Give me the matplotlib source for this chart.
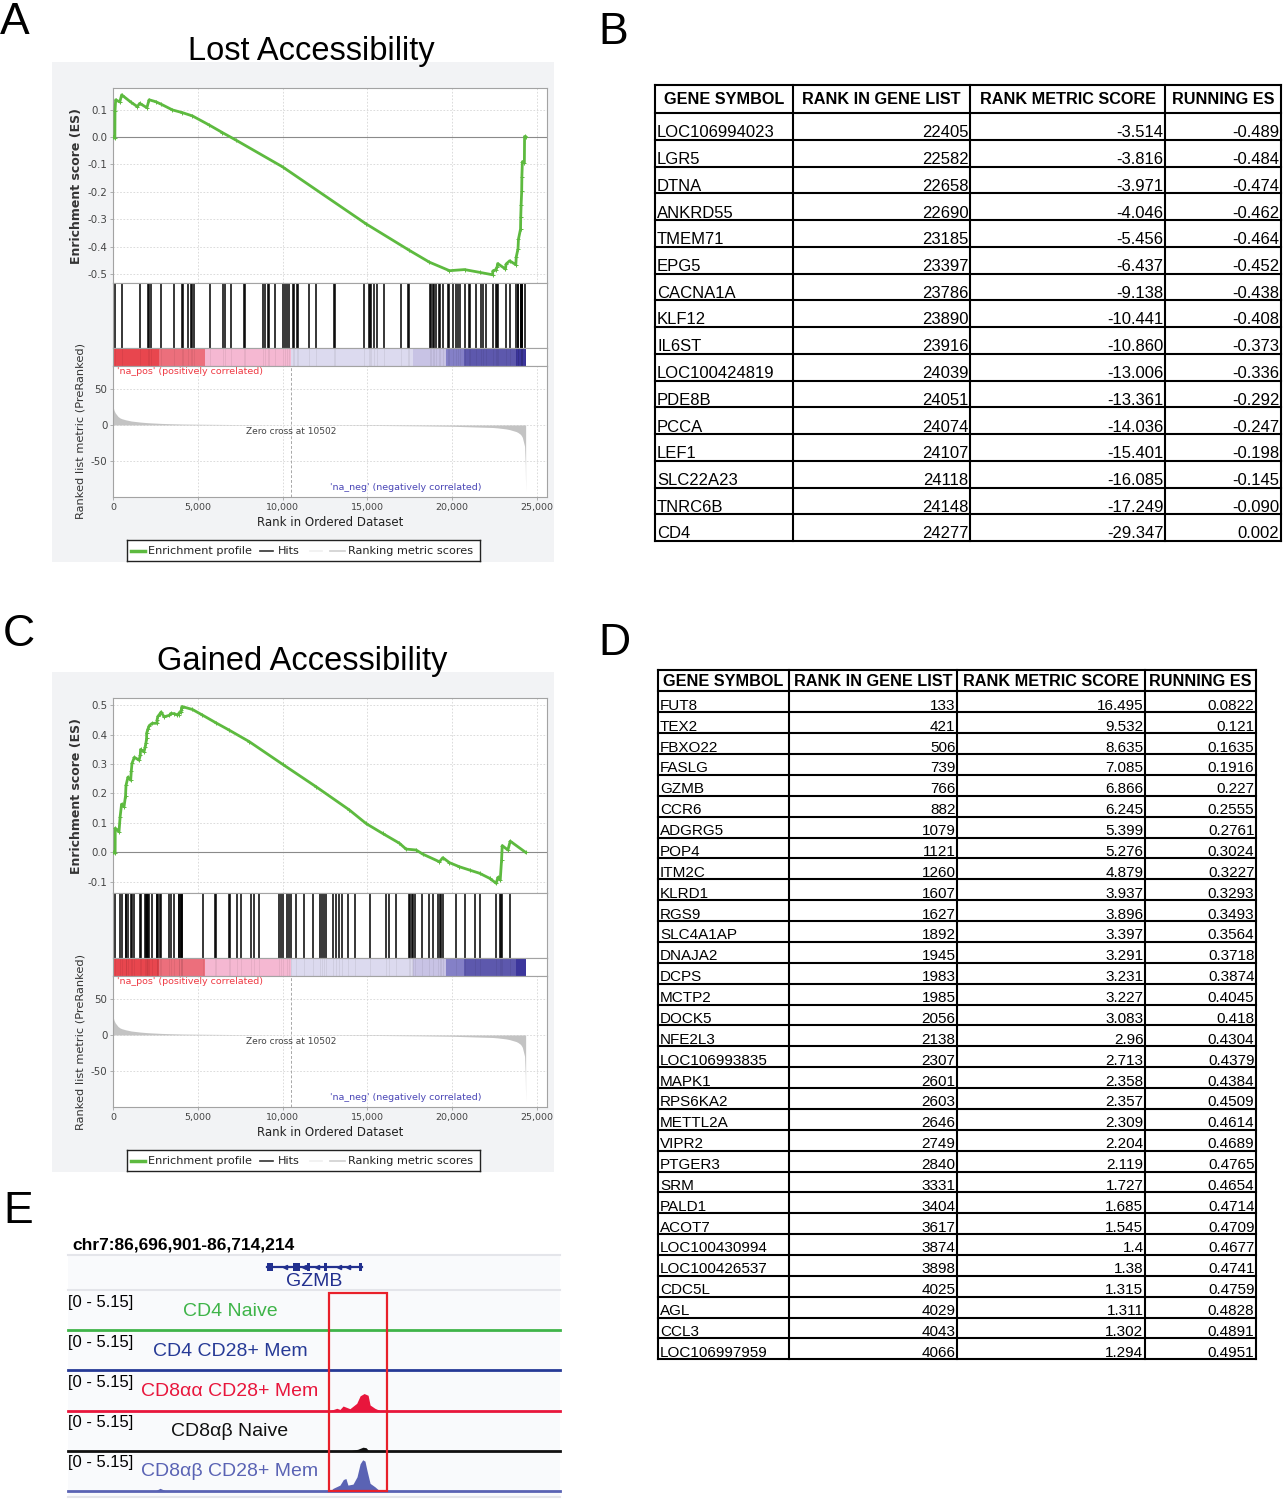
import numpy as np
import matplotlib
matplotlib.use('Agg')
import matplotlib.pyplot as plt
from matplotlib.patches import Rectangle

W, H = 1283, 1500
fig = plt.figure(figsize=(W / 100, H / 100), dpi=100)

SANS = ['Liberation Sans', 'DejaVu Sans']

# ---- shared ranked list (both GSEA runs use the same list) ----
x_ticks = [0, 5000, 10000, 15000, 20000, 25000]
x_ticklabels = ['0', '5,000', '10,000', '15,000', '20,000', '25,000']
n_genes = 24340
zero_cross = 10502
metric_rank = [0, 60, 133, 300, 421, 506, 739, 1079, 1627, 2056, 2840, 3331, 4066, 5000, 7000,
               9000, 10502, 13000, 16000, 18000, 20000, 21000, 22405, 22658, 23185, 23397, 23786,
               23890, 24039, 24107, 24148, 24277, 24320, 24340]
metric_score = [26, 20, 16.5, 11.5, 9.53, 8.64, 7.09, 5.40, 3.90, 3.08, 2.12, 1.73, 1.29, 1.0, 0.6,
                0.25, 0, -0.4, -0.8, -1.2, -1.8, -2.5, -3.51, -3.97, -5.46, -6.44, -9.14,
                -10.44, -13.0, -15.4, -17.2, -29.3, -55, -92]
bar_edges = [0, 2700, 5430, 10502, 17700, 19650, 20730, 23800, 24340]
bar_colors = ['#e8464e', '#ec6f7c', '#f5b8d2', '#dcdaef', '#c8c3e5', '#8480c7', '#5d58ad', '#3c369c']

# ---- table B (lost accessibility, leading edge) ----
headers = ['GENE SYMBOL', 'RANK IN GENE LIST', 'RANK METRIC SCORE', 'RUNNING ES']
gene_B = ['LOC106994023', 'LGR5', 'DTNA', 'ANKRD55', 'TMEM71', 'EPG5', 'CACNA1A', 'KLF12', 'IL6ST',
          'LOC100424819', 'PDE8B', 'PCCA', 'LEF1', 'SLC22A23', 'TNRC6B', 'CD4']
rank_B = [22405, 22582, 22658, 22690, 23185, 23397, 23786, 23890, 23916, 24039, 24051, 24074,
          24107, 24118, 24148, 24277]
score_B = [-3.514, -3.816, -3.971, -4.046, -5.456, -6.437, -9.138, -10.441, -10.860, -13.006,
           -13.361, -14.036, -15.401, -16.085, -17.249, -29.347]
es_B = [-0.489, -0.484, -0.474, -0.462, -0.464, -0.452, -0.438, -0.408, -0.373, -0.336, -0.292,
        -0.247, -0.198, -0.145, -0.090, 0.002]

# ---- table D (gained accessibility, leading edge) ----
gene_D = ['FUT8', 'TEX2', 'FBXO22', 'FASLG', 'GZMB', 'CCR6', 'ADGRG5', 'POP4', 'ITM2C', 'KLRD1',
          'RGS9', 'SLC4A1AP', 'DNAJA2', 'DCPS', 'MCTP2', 'DOCK5', 'NFE2L3', 'LOC106993835',
          'MAPK1', 'RPS6KA2', 'METTL2A', 'VIPR2', 'PTGER3', 'SRM', 'PALD1', 'ACOT7',
          'LOC100430994', 'LOC100426537', 'CDC5L', 'AGL', 'CCL3', 'LOC106997959']
rank_D = [133, 421, 506, 739, 766, 882, 1079, 1121, 1260, 1607, 1627, 1892, 1945, 1983, 1985, 2056,
          2138, 2307, 2601, 2603, 2646, 2749, 2840, 3331, 3404, 3617, 3874, 3898, 4025, 4029,
          4043, 4066]
score_D = [16.495, 9.532, 8.635, 7.085, 6.866, 6.245, 5.399, 5.276, 4.879, 3.937, 3.896, 3.397,
           3.291, 3.231, 3.227, 3.083, 2.96, 2.713, 2.358, 2.357, 2.309, 2.204, 2.119, 1.727,
           1.685, 1.545, 1.4, 1.38, 1.315, 1.311, 1.302, 1.294]
es_D = [0.0822, 0.121, 0.1635, 0.1916, 0.227, 0.2555, 0.2761, 0.3024, 0.3227, 0.3293, 0.3493,
        0.3564, 0.3718, 0.3874, 0.4045, 0.418, 0.4304, 0.4379, 0.4384, 0.4509, 0.4614, 0.4689,
        0.4765, 0.4654, 0.4714, 0.4709, 0.4677, 0.4741, 0.4759, 0.4828, 0.4891, 0.4951]

# ---- running ES ----
lost_head_rank = [0, 110, 118, 157, 400, 512, 1040, 1437, 1575, 2000, 2127, 2520, 2835, 3505, 4096,
                  4686, 5671, 6458, 7246, 10003, 14925, 17485, 18666, 19848, 20734, 21620, 22390]
lost_head_val = [0.0, -0.004, 0.095, 0.136, 0.128, 0.154, 0.128, 0.111, 0.123, 0.107, 0.136, 0.129,
                 0.120, 0.099, 0.089, 0.077, 0.044, 0.016, -0.011, -0.109, -0.317, -0.414, -0.457,
                 -0.488, -0.484, -0.494, -0.503]
lost_tail_rank = [23150, 23760, 24265, 24340]
lost_tail_val = [-0.482, -0.466, -0.094, 0.0]
lost_hits_head = [118, 512, 1575, 2048, 2127, 2225, 2835, 3623, 4056, 4135, 4450, 4588, 4686, 4765,
                  5730, 6498, 6596, 6951, 7699, 7778, 8821, 8979, 9136, 9215, 9569, 10003, 10121,
                  10239, 10357, 10593, 10692, 10830, 10908, 11538, 11972, 13055, 13114, 14787,
                  15122, 15181, 15240, 15417, 15555, 15969, 17012, 17386, 17445, 18706, 18784,
                  18863, 18961, 19060, 19217, 19296, 19454, 19749, 19848, 20084, 20241, 20340,
                  20478, 20734, 20990, 21068, 21383, 21718, 21817, 22013]

gained_dip_rank = [0, 125, 354, 650, 1043, 1536, 1831, 3012, 3800]
gained_dip_val = [0.0, -0.003, 0.07, 0.155, 0.245, 0.313, 0.342, 0.46, 0.466]
gained_tail_rank = [4686, 5277, 6064, 6852, 8034, 10003, 11972, 13941, 14925, 15910, 16894, 17288,
                    17879, 18273, 19257, 19454, 19848, 20438, 21029, 21620, 22210, 22604, 22703,
                    22841, 22920, 22959, 23293, 23431, 24337]
gained_tail_val = [0.485, 0.466, 0.44, 0.415, 0.376, 0.299, 0.223, 0.144, 0.098, 0.064, 0.031,
                   0.011, 0.008, -0.006, -0.032, -0.018, -0.035, -0.049, -0.06, -0.071, -0.088,
                   -0.105, -0.085, -0.094, -0.026, 0.023, 0.008, 0.038, 0.0]
gained_hits_tail = [5316, 6005, 6104, 6813, 6872, 7285, 7561, 8132, 8329, 8585, 9806, 9904, 10003,
                    10259, 10357, 10495, 10790, 11282, 11775, 12208, 12326, 12464, 12562, 12956,
                    13153, 13350, 13507, 13842, 14295, 15161, 16106, 16264, 16697, 17445, 17544,
                    17642, 17721, 17839, 18233, 18666, 18863, 19158, 19296, 19375, 19454, 20241,
                    20734, 21325, 21620, 22604, 22801, 22900, 22959, 23392]

# ---- panel E: genome browser tracks (kb from 86,696,901) ----
region = 'chr7:86,696,901-86,714,214'
region_kb = 17.313
gene_start, gene_end = 7.00, 10.35
exon_start = [7.00, 7.92, 8.41, 9.01, 10.24]
exon_end = [7.21, 8.16, 8.52, 9.11, 10.35]
highlight = (9.18, 11.23)
track_names = ['CD4 Naive', 'CD4 CD28+ Mem', 'CD8αα CD28+ Mem', 'CD8αβ Naive', 'CD8αβ CD28+ Mem']
track_colors = ['#3fb449', '#263a96', '#e8163c', '#111111', '#5a63b4']
track_pos = [
    [0, 10.30, 10.40, 10.50, region_kb],
    [0, 10.30, 10.40, 10.50, region_kb],
    [0, 9.22, 9.46, 9.57, 9.68, 9.92, 10.16, 10.28, 10.42, 10.56, 10.63, 10.80, 10.98, region_kb],
    [0, 9.92, 10.20, 10.38, 10.49, 10.56, 10.63, region_kb],
    [0, 3.06, 3.24, 3.45, 7.05, 7.11, 7.17, 9.22, 9.33, 9.57, 9.69, 9.78, 9.85, 10.03, 10.17,
     10.28, 10.37, 10.45, 10.52, 10.63, 10.80, 10.94, 11.05, region_kb],
]
track_val = [
    [0, 0, 0.1, 0, 0],
    [0, 0, 0.1, 0, 0],
    [0, 0, 0.3, 0.15, 0.6, 0.25, 0.95, 1.93, 2.23, 2.0, 0.73, 0.3, 0, 0],
    [0, 0, 0.2, 0.47, 0.4, 0.1, 0, 0],
    [0, 0, 0.35, 0, 0, 0.12, 0, 0, 0.35, 0.77, 1.5, 1.63, 0.77, 0.9, 1.85, 3.56, 4.08, 3.9,
     2.7, 1.0, 0.55, 0.1, 0, 0],
]
track_max = 5.15


def px_axes(x0, y0, x1, y1):
    return fig.add_axes([x0 / W, 1 - y1 / H, (x1 - x0) / W, (y1 - y0) / H])


def gsea_panel(dy, title, title_x, es_rank, es_val, hits, es_lim, es_ticks, es_labels):
    fig.add_artist(Rectangle((52 / W, 1 - (562 + dy) / H), 502 / W, 500 / H,
                             transform=fig.transFigure, fc='#f2f3f5', ec='none', zorder=-5))
    fig.text(title_x / W, 1 - (60 + dy) / H, title, ha='center', va='baseline',
             fontsize=23.5, family=SANS)
    frame = '#a3a3a3'

    ax = px_axes(113, 88 + dy, 547, 283 + dy)
    ax.plot(es_rank, es_val, color='#5dba3f', lw=2, marker='+', ms=3, mew=0.7, zorder=3)
    ax.axhline(0, color='#8a8a8a', lw=0.8, zorder=2)
    ax.set_xlim(0, 25600)
    ax.set_ylim(*es_lim)
    ax.set_xticks(x_ticks)
    ax.set_xticklabels([])
    ax.set_yticks(es_ticks)
    ax.set_yticklabels(es_labels)
    ax.grid(color='#d6d6d6', ls=(0, (2, 2)), lw=0.6)
    ax.tick_params(axis='x', length=0)
    ax.tick_params(axis='y', length=2, width=0.6, labelsize=7.4, labelcolor='#444', color=frame, pad=2)
    ax.set_ylabel('Enrichment score (ES)', fontsize=9, fontweight='bold', color='#333', labelpad=3)

    hx = px_axes(113, 283 + dy, 547, 348 + dy)
    hx.vlines(hits, 0, 1, color='black', lw=1.1)
    hx.set_xlim(0, 25600)
    hx.set_ylim(0, 1)
    hx.set_xticks([])
    hx.set_yticks([])

    cx = px_axes(113, 348 + dy, 547, 366 + dy)
    cx.bar(bar_edges[:-1], 1, width=np.diff(bar_edges), align='edge', color=bar_colors, lw=0)
    cx.vlines(hits, 0, 1, color='black', lw=0.6, alpha=0.07)
    cx.set_xlim(0, 25600)
    cx.set_ylim(0, 1)
    cx.set_xticks([])
    cx.set_yticks([])

    mx = px_axes(113, 366 + dy, 547, 497 + dy)
    mx.fill_between(metric_rank, metric_score, 0, color='#c3c3c3', lw=0, zorder=2)
    mx.axvline(zero_cross, color='#a8a8a8', ls=(0, (3, 2)), lw=0.7)
    mx.set_xlim(0, 25600)
    mx.set_ylim(-99, 81)
    mx.set_yticks([-50, 0, 50])
    mx.set_yticklabels(['-50', '0', '50'])
    mx.set_xticks(x_ticks)
    mx.set_xticklabels(x_ticklabels)
    mx.grid(color='#d6d6d6', ls=(0, (2, 2)), lw=0.6)
    mx.tick_params(length=2, width=0.6, labelsize=6.8, labelcolor='#444', color=frame, pad=2)
    mx.tick_params(axis='y', labelsize=7.4)
    mx.set_xlabel('Rank in Ordered Dataset', fontsize=8.5, color='#222', labelpad=3)
    mx.set_ylabel('Ranked list metric (PreRanked)', fontsize=8.2, color='#333', labelpad=4)
    mx.text(0.009, 0.99, "'na_pos' (positively correlated)", transform=mx.transAxes,
            ha='left', va='top', fontsize=6.8, color='#ef3a44')
    mx.text(0.5, 0.076, "'na_neg' (negatively correlated)", transform=mx.transAxes,
            ha='left', va='center', fontsize=6.8, color='#4a46b6')
    mx.text(zero_cross, -3, 'Zero cross at ' + str(zero_cross), ha='center', va='top',
            fontsize=6.5, color='#444')

    for a in (ax, hx, cx, mx):
        for s in a.spines.values():
            s.set_color(frame)
            s.set_linewidth(0.8)

    lg = px_axes(127, 540 + dy, 480, 561 + dy)
    lg.set_xlim(127, 480)
    lg.set_ylim(0, 1)
    lg.set_xticks([])
    lg.set_yticks([])
    for s in lg.spines.values():
        s.set_color('#222')
        s.set_linewidth(1.0)
    lg.plot([131, 145], [0.5, 0.5], color='#5dba3f', lw=2.5)
    lg.text(148, 0.5, 'Enrichment profile', va='center', fontsize=8.1, color='#222')
    lg.plot([260, 273], [0.5, 0.5], color='#333', lw=1.2)
    lg.text(278, 0.5, 'Hits', va='center', fontsize=8.1, color='#222')
    lg.plot([310, 322], [0.5, 0.5], color='#f0f0f0', lw=1.2)
    lg.plot([330, 345], [0.5, 0.5], color='#cfcfcf', lw=1.2)
    lg.text(348, 0.5, 'Ranking metric scores', va='center', fontsize=8.1, color='#222')


def table_panel(x_edges, top, head_h, row_h, columns, body_size):
    n = len(columns[0])
    bottom = top + head_h + row_h * n
    ax = px_axes(x_edges[0], top, x_edges[-1], bottom)
    ax.set_xlim(x_edges[0], x_edges[-1])
    ax.set_ylim(bottom, top)
    ax.axis('off')
    for x in x_edges:
        ax.plot([x, x], [top, bottom], color='black', lw=1.5, clip_on=False,
                solid_capstyle='projecting')
    for y in [top] + [top + head_h + row_h * i for i in range(n + 1)]:
        ax.plot([x_edges[0], x_edges[-1]], [y, y], color='black', lw=1.5, clip_on=False,
                solid_capstyle='projecting')
    for j, h in enumerate(headers):
        ax.text((x_edges[j] + x_edges[j + 1]) / 2, top + head_h / 2 + 1, h, ha='center',
                va='center', fontsize=11.7, fontweight='bold', family=SANS)
    for i in range(n):
        yb = top + head_h + row_h * (i + 1) - 2.5
        ax.text(x_edges[0] + 2, yb, columns[0][i], ha='left', va='baseline',
                fontsize=body_size, family=SANS)
        for j in range(1, 4):
            ax.text(x_edges[j + 1] - 1.5, yb, columns[j][i], ha='right', va='baseline',
                    fontsize=body_size, family=SANS)


# ---- panels A and C ----
lost = sorted(zip(lost_head_rank + rank_B + lost_tail_rank, lost_head_val + es_B + lost_tail_val))
gsea_panel(0, 'Lost Accessibility', 311, [p[0] for p in lost], [p[1] for p in lost],
           lost_hits_head + rank_B, (-0.533, 0.179),
           [-0.5, -0.4, -0.3, -0.2, -0.1, 0.0, 0.1],
           ['-0.5', '-0.4', '-0.3', '-0.2', '-0.1', '0.0', '0.1'])

gained = sorted(zip(gained_dip_rank + rank_D + gained_tail_rank,
                    gained_dip_val + es_D + gained_tail_val))
gsea_panel(610, 'Gained Accessibility', 302, [p[0] for p in gained], [p[1] for p in gained],
           rank_D + gained_hits_tail, (-0.138, 0.524),
           [-0.1, 0.0, 0.1, 0.2, 0.3, 0.4, 0.5],
           ['-0.1', '0.0', '0.1', '0.2', '0.3', '0.4', '0.5'])

# ---- panels B and D ----
table_panel([655, 793, 970, 1165, 1281], 85, 28, 26.75,
            [gene_B, [str(r) for r in rank_B], ['%.3f' % v for v in score_B],
             ['%.3f' % v for v in es_B]], 12)
table_panel([658, 789, 957, 1145, 1256], 670, 21.5, 20.87,
            [gene_D, [str(r) for r in rank_D], [str(v) for v in score_D],
             [str(v) for v in es_D]], 11)

# ---- panel E ----
fig.text(72 / W, 1 - 1249 / H, region, fontsize=12.5, fontweight='bold', family=SANS)
fig.add_artist(Rectangle((68 / W, 1 - 1497 / H), 492 / W, 242 / H, transform=fig.transFigure,
                         fc='#f9fafc', ec='none', zorder=-5))
for yy in (1255, 1290, 1497):
    fig.add_artist(plt.Line2D([68 / W, 560 / W], [1 - yy / H, 1 - yy / H], color='#e4e5ea',
                              lw=1.5, transform=fig.transFigure))

gx = px_axes(68, 1255, 560, 1290)
gx.set_xlim(0, region_kb)
gx.set_ylim(35, 0)
gx.axis('off')
gx.plot([gene_start, gene_end], [12, 12], color='#22308f', lw=1.6)
for s, e in zip(exon_start, exon_end):
    gx.add_patch(Rectangle((s, 8), e - s, 8, color='#22308f', lw=0))
gx.plot([7.62, 8.30, 8.75, 9.55, 9.85], [12] * 5, ls='none', marker='<', ms=3, color='#22308f')
gx.text((gene_start + gene_end) / 2, 26, 'GZMB', ha='center', va='center', fontsize=14,
        color='#22308f', family=SANS)

for k, name in enumerate(track_names):
    top = 1290 + k * 40.2
    tx = px_axes(68, top, 560, top + 40.2)
    tx.set_xlim(0, region_kb)
    tx.set_ylim(0, track_max * 1.02)
    tx.axis('off')
    tx.fill_between(track_pos[k], track_val[k], 0, color=track_colors[k], lw=0)
    tx.axhline(0, color=track_colors[k], lw=2.0, clip_on=False)
    fig.text(68 / W, 1 - (top + 12) / H, '[0 - 5.15]', ha='left', va='center', fontsize=12,
             family=SANS)
    fig.text(230 / W, 1 - (top + 21) / H, name, ha='center', va='center', fontsize=14,
             color=track_colors[k], family=SANS)

ox = px_axes(68, 1293, 560, 1491)
ox.set_xlim(0, region_kb)
ox.set_ylim(0, 1)
ox.axis('off')
ox.add_patch(Rectangle((highlight[0], 0), highlight[1] - highlight[0], 1, fill=False,
                       ec='#e8202a', lw=1.6, clip_on=False))

# ---- panel letters ----
for letter, x, y in [('A', 0, 34), ('B', 598, 44), ('C', 3, 646), ('D', 598, 655), ('E', 3, 1223)]:
    fig.text(x / W, 1 - y / H, letter, fontsize=32, family=SANS, va='baseline')

fig.savefig('out.png', dpi=100)
